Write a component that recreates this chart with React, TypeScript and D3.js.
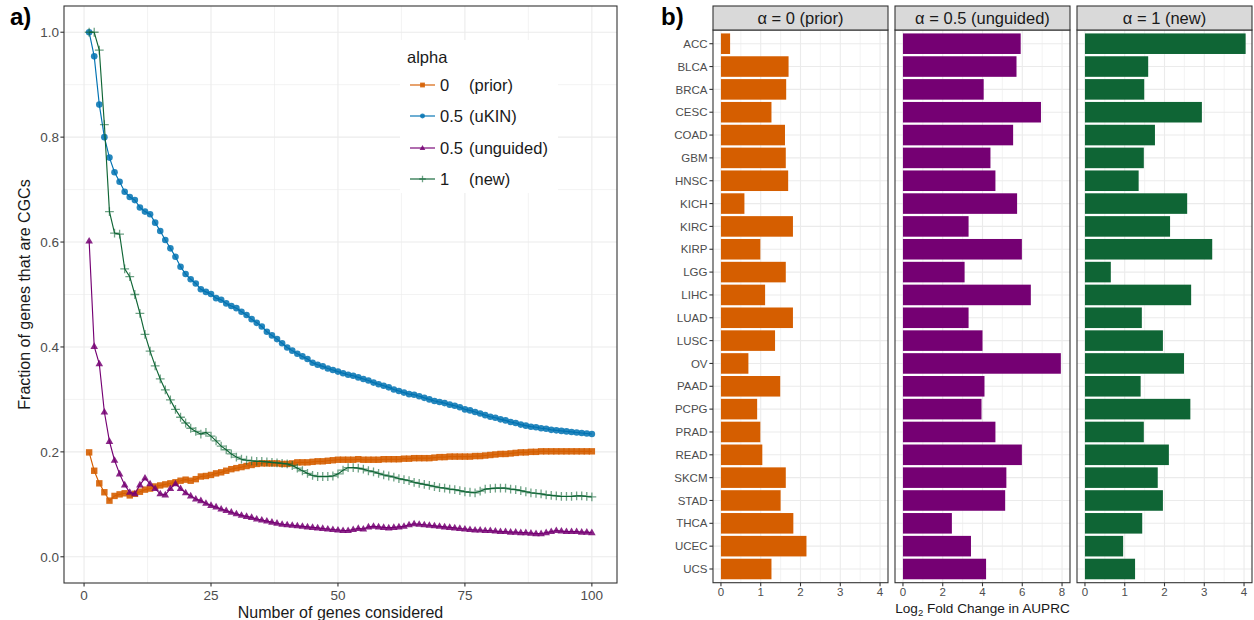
import React from 'react';
import * as d3 from 'd3';

// ---------- Panel a data ----------
const geneCounts = d3.range(1, 101);

const priorFraction = [
  0.199, 0.164, 0.140, 0.123, 0.107, 0.116, 0.119, 0.121, 0.117, 0.120,
  0.124, 0.128, 0.130, 0.134, 0.136, 0.138, 0.140, 0.142, 0.145, 0.147,
  0.145, 0.148, 0.153, 0.154, 0.156, 0.159, 0.161, 0.164, 0.167, 0.169,
  0.171, 0.173, 0.175, 0.177, 0.178, 0.178, 0.178, 0.178, 0.177, 0.177,
  0.178, 0.180, 0.180, 0.180, 0.181, 0.182, 0.182, 0.183, 0.184, 0.185,
  0.185, 0.185, 0.185, 0.186, 0.185, 0.185, 0.185, 0.185, 0.186, 0.186,
  0.186, 0.186, 0.187, 0.187, 0.188, 0.188, 0.188, 0.188, 0.189, 0.190,
  0.190, 0.191, 0.191, 0.191, 0.191, 0.191, 0.192, 0.192, 0.193, 0.194,
  0.195, 0.196, 0.196, 0.197, 0.198, 0.199, 0.199, 0.200, 0.200, 0.201,
  0.201, 0.201, 0.201, 0.201, 0.201, 0.201, 0.201, 0.201, 0.201, 0.201,
];

const ukinFraction = [
  1.000, 0.954, 0.862, 0.800, 0.761, 0.733, 0.715, 0.696, 0.686, 0.680,
  0.666, 0.658, 0.653, 0.637, 0.621, 0.604, 0.588, 0.572, 0.553, 0.539,
  0.529, 0.521, 0.510, 0.505, 0.501, 0.493, 0.490, 0.483, 0.478, 0.474,
  0.467, 0.461, 0.453, 0.446, 0.439, 0.429, 0.422, 0.415, 0.407, 0.399,
  0.393, 0.387, 0.382, 0.377, 0.370, 0.366, 0.363, 0.359, 0.356, 0.353,
  0.350, 0.347, 0.345, 0.342, 0.339, 0.336, 0.332, 0.329, 0.326, 0.323,
  0.319, 0.316, 0.313, 0.310, 0.309, 0.306, 0.303, 0.300, 0.297, 0.295,
  0.293, 0.290, 0.288, 0.285, 0.281, 0.279, 0.276, 0.273, 0.270, 0.267,
  0.265, 0.262, 0.260, 0.257, 0.255, 0.252, 0.250, 0.248, 0.247, 0.245,
  0.244, 0.242, 0.241, 0.240, 0.239, 0.238, 0.237, 0.236, 0.235, 0.234,
];

const unguidedFraction = [
  0.602, 0.401, 0.368, 0.276, 0.220, 0.184, 0.158, 0.137, 0.123, 0.120,
  0.137, 0.150, 0.139, 0.130, 0.120, 0.118, 0.130, 0.139, 0.130, 0.122,
  0.116, 0.110, 0.107, 0.102, 0.098, 0.095, 0.091, 0.088, 0.085, 0.082,
  0.079, 0.077, 0.075, 0.072, 0.070, 0.068, 0.066, 0.064, 0.062, 0.061,
  0.060, 0.059, 0.058, 0.057, 0.056, 0.055, 0.054, 0.053, 0.052, 0.051,
  0.050, 0.050, 0.052, 0.054, 0.053, 0.057, 0.058, 0.057, 0.056, 0.055,
  0.056, 0.057, 0.058, 0.061, 0.063, 0.062, 0.061, 0.060, 0.059, 0.058,
  0.057, 0.056, 0.055, 0.054, 0.053, 0.052, 0.051, 0.051, 0.050, 0.050,
  0.049, 0.048, 0.048, 0.047, 0.047, 0.046, 0.046, 0.045, 0.044, 0.044,
  0.046, 0.048, 0.050, 0.049, 0.048, 0.048, 0.048, 0.047, 0.047, 0.046,
];

const newFraction = [
  1.000, 1.000, 0.966, 0.824, 0.658, 0.617, 0.615, 0.549, 0.534, 0.500,
  0.464, 0.424, 0.392, 0.364, 0.339, 0.318, 0.299, 0.281, 0.266, 0.255,
  0.245, 0.239, 0.234, 0.237, 0.230, 0.221, 0.211, 0.204, 0.196, 0.190,
  0.186, 0.184, 0.183, 0.182, 0.182, 0.181, 0.180, 0.179, 0.178, 0.177,
  0.174, 0.169, 0.164, 0.159, 0.155, 0.153, 0.153, 0.153, 0.154, 0.158,
  0.165, 0.170, 0.170, 0.169, 0.167, 0.164, 0.162, 0.159, 0.156, 0.154,
  0.152, 0.149, 0.147, 0.145, 0.142, 0.140, 0.138, 0.136, 0.134, 0.132,
  0.131, 0.129, 0.128, 0.126, 0.124, 0.123, 0.122, 0.125, 0.129, 0.130,
  0.131, 0.131, 0.131, 0.129, 0.128, 0.126, 0.124, 0.122, 0.121, 0.120,
  0.118, 0.117, 0.116, 0.115, 0.115, 0.115, 0.116, 0.116, 0.115, 0.114,
];

const legendValues = ['0', '0.5', '0.5', '1'];
const legendDescs = ['(prior)', '(uKIN)', '(unguided)', '(new)'];
const seriesColors = ['#D55E00', '#0072B2', '#750073', '#0F6535'];
const seriesShapes = ['square', 'circle', 'triangle', 'plus'];

const xTicksA = [0, 25, 50, 75, 100];
const xMinorA = [12.5, 37.5, 62.5, 87.5];
const yTicksA = [0, 0.2, 0.4, 0.6, 0.8, 1.0];
const yMinorA = [0.1, 0.3, 0.5, 0.7, 0.9];

// ---------- Panel b data ----------
const cancerTypes = [
  'ACC', 'BLCA', 'BRCA', 'CESC', 'COAD', 'GBM', 'HNSC', 'KICH', 'KIRC', 'KIRP',
  'LGG', 'LIHC', 'LUAD', 'LUSC', 'OV', 'PAAD', 'PCPG', 'PRAD', 'READ', 'SKCM',
  'STAD', 'THCA', 'UCEC', 'UCS',
];
const foldPrior = [
  0.23, 1.70, 1.64, 1.27, 1.61, 1.63, 1.69, 0.59, 1.81, 0.99,
  1.63, 1.11, 1.81, 1.36, 0.69, 1.49, 0.91, 0.99, 1.04, 1.63,
  1.50, 1.82, 2.15, 1.27,
];
const foldUnguided = [
  5.92, 5.71, 4.06, 6.94, 5.54, 4.40, 4.65, 5.74, 3.30, 5.98,
  3.10, 6.43, 3.30, 4.00, 7.94, 4.10, 3.95, 4.65, 5.98, 5.20,
  5.14, 2.46, 3.42, 4.18,
];
const foldNew = [
  4.04, 1.59, 1.49, 2.94, 1.76, 1.48, 1.35, 2.57, 2.14, 3.20,
  0.65, 2.67, 1.43, 1.96, 2.49, 1.40, 2.65, 1.48, 2.11, 1.83,
  1.96, 1.44, 0.96, 1.26,
];
const facetTitles = ['\u03B1 = 0 (prior)', '\u03B1 = 0.5 (unguided)', '\u03B1 = 1 (new)'];
const facetColors = ['#D55E00', '#750073', '#0F6535'];
const facetTicks = [[0, 1, 2, 3, 4], [0, 2, 4, 6, 8], [0, 1, 2, 3, 4]];
const facetMinor = [[0.5, 1.5, 2.5, 3.5], [1, 3, 5, 7], [0.5, 1.5, 2.5, 3.5]];
const facetDomains = [[-0.2, 4.2], [-0.4, 8.4], [-0.2, 4.2]];

const FONT = '"Liberation Sans", Arial, Helvetica, sans-serif';
const GRID = '#EBEBEB';
const AXIS = '#333333';
const TEXT = '#1A1A1A';
const TICKTXT = '#4D4D4D';

function Marker({ shape, x, y, color, k = 1 }: { shape: string; x: number; y: number; color: string; k?: number }) {
  if (shape === 'square') {
    const s = 6.4 * k;
    return <rect x={x - s / 2} y={y - s / 2} width={s} height={s} fill={color} opacity={0.9} />;
  }
  if (shape === 'circle') {
    return <circle cx={x} cy={y} r={3.3 * k} fill={color} opacity={0.85} />;
  }
  if (shape === 'triangle') {
    const w = 7.6 * k;
    const h = 6.6 * k;
    const p = `M${x},${y - h * 0.62}L${x + w / 2},${y + h * 0.38}L${x - w / 2},${y + h * 0.38}Z`;
    return <path d={p} fill={color} opacity={0.85} />;
  }
  const a = 4.4 * k;
  return (
    <path d={`M${x - a},${y}H${x + a}M${x},${y - a}V${y + a}`} stroke={color} strokeWidth={1.3} opacity={0.6} fill="none" />
  );
}

export default function App() {
  const W = 1254;
  const H = 620;

  // Panel a geometry
  const A = { left: 64, right: 617, top: 6, bottom: 583 };
  const xA = d3.scaleLinear().domain([-3.95, 104.95]).range([A.left, A.right]);
  const yA = d3.scaleLinear().domain([-0.05, 1.05]).range([A.bottom, A.top]);
  const allSeries = [priorFraction, ukinFraction, unguidedFraction, newFraction];
  const line = d3
    .line<number>()
    .x((_, i) => xA(geneCounts[i]))
    .y((d) => yA(d));

  // Panel b geometry
  const B = { top: 30, bottom: 582.7, stripTop: 6 };
  const panelX = [
    [713, 888],
    [895, 1070],
    [1077, 1252],
  ];
  const yB = d3.scaleLinear().domain([-0.6, cancerTypes.length - 1 + 0.6]).range([B.top, B.bottom]);
  const bandH = yB(1) - yB(0);
  const folds = [foldPrior, foldUnguided, foldNew];

  const legend = { x: 400, y: 40, w: 158, h: 153 };
  const legendRows = [85, 116, 148, 179];

  return (
    <div style={{ position: 'fixed', left: 0, top: 0, width: W, height: H, background: '#fff' }}>
      <svg width={W} height={H} viewBox={`0 0 ${W} ${H}`} style={{ display: 'block' }} fontFamily={FONT}>
        <rect x={0} y={0} width={W} height={H} fill="#fff" />

        {/* ---------- Panel a ---------- */}
        <text x={10} y={25} fontSize={24} fontWeight="bold" fill="#000">a)</text>

        <rect x={A.left} y={A.top} width={A.right - A.left} height={A.bottom - A.top} fill="#fff" />
        {xMinorA.map((v) => (
          <line key={'xm' + v} x1={xA(v)} x2={xA(v)} y1={A.top} y2={A.bottom} stroke={GRID} strokeWidth={0.6} />
        ))}
        {yMinorA.map((v) => (
          <line key={'ym' + v} y1={yA(v)} y2={yA(v)} x1={A.left} x2={A.right} stroke={GRID} strokeWidth={0.6} />
        ))}
        {xTicksA.map((v) => (
          <line key={'xg' + v} x1={xA(v)} x2={xA(v)} y1={A.top} y2={A.bottom} stroke={GRID} strokeWidth={1.1} />
        ))}
        {yTicksA.map((v) => (
          <line key={'yg' + v} y1={yA(v)} y2={yA(v)} x1={A.left} x2={A.right} stroke={GRID} strokeWidth={1.1} />
        ))}

        {allSeries.map((s, si) => (
          <g key={'s' + si}>
            <path d={line(s) || ''} fill="none" stroke={seriesColors[si]} strokeWidth={1.15} />
            {s.map((v, i) => (
              <Marker key={i} shape={seriesShapes[si]} x={xA(geneCounts[i])} y={yA(v)} color={seriesColors[si]} />
            ))}
          </g>
        ))}

        {/* legend */}
        <rect x={legend.x} y={legend.y} width={legend.w} height={legend.h} fill="#fff" />
        <text x={407} y={63} fontSize={16.5} fill={TEXT}>alpha</text>
        {legendValues.map((lv, i) => (
          <g key={'lg' + i}>
            <line x1={410} x2={435} y1={legendRows[i]} y2={legendRows[i]} stroke={seriesColors[i]} strokeWidth={1.15} />
            <Marker shape={seriesShapes[i]} x={422.5} y={legendRows[i]} color={seriesColors[i]} k={0.75} />
            <text x={440} y={legendRows[i]} dy="0.36em" fontSize={16.5} fill={TEXT}>{lv}</text>
            <text x={469} y={legendRows[i]} dy="0.36em" fontSize={16.5} fill={TEXT}>{legendDescs[i]}</text>
          </g>
        ))}

        <rect x={A.left} y={A.top} width={A.right - A.left} height={A.bottom - A.top} fill="none" stroke={AXIS} strokeWidth={1.1} />

        {/* axes a */}
        {yTicksA.map((v) => (
          <g key={'yt' + v}>
            <line x1={A.left - 3.6} x2={A.left} y1={yA(v)} y2={yA(v)} stroke={AXIS} strokeWidth={1.1} />
            <text x={A.left - 5} y={yA(v)} dy="0.36em" textAnchor="end" fontSize={13.5} fill={TICKTXT}>
              {v.toFixed(1)}
            </text>
          </g>
        ))}
        {xTicksA.map((v) => (
          <g key={'xt' + v}>
            <line x1={xA(v)} x2={xA(v)} y1={A.bottom} y2={A.bottom + 3.6} stroke={AXIS} strokeWidth={1.1} />
            <text x={xA(v)} y={600} textAnchor="middle" fontSize={13.5} fill={TICKTXT}>{v}</text>
          </g>
        ))}
        <text x={(A.left + A.right) / 2} y={618} textAnchor="middle" fontSize={16} fill={TEXT}>
          Number of genes considered
        </text>
        <text
          transform={`translate(30, ${(A.top + A.bottom) / 2}) rotate(-90)`}
          textAnchor="middle"
          fontSize={16}
          fill={TEXT}
        >
          Fraction of genes that are CGCs
        </text>

        {/* ---------- Panel b ---------- */}
        <text x={661} y={25} fontSize={24} fontWeight="bold" fill="#000">b)</text>

        {panelX.map((px, fi) => {
          const xs = d3.scaleLinear().domain(facetDomains[fi]).range(px);
          const vals = folds[fi];
          return (
            <g key={'f' + fi}>
              <rect x={px[0]} y={B.top} width={px[1] - px[0]} height={B.bottom - B.top} fill="#fff" />
              {facetMinor[fi].map((v) => (
                <line key={'m' + v} x1={xs(v)} x2={xs(v)} y1={B.top} y2={B.bottom} stroke={GRID} strokeWidth={0.6} />
              ))}
              {facetTicks[fi].map((v) => (
                <line key={'g' + v} x1={xs(v)} x2={xs(v)} y1={B.top} y2={B.bottom} stroke={GRID} strokeWidth={1.1} />
              ))}
              {cancerTypes.map((c, i) => (
                <line key={'h' + c} x1={px[0]} x2={px[1]} y1={yB(i)} y2={yB(i)} stroke={GRID} strokeWidth={1.1} />
              ))}
              {vals.map((v, i) => (
                <rect
                  key={'b' + i}
                  x={xs(0)}
                  y={yB(i) - (bandH * 0.9) / 2}
                  width={xs(v) - xs(0)}
                  height={bandH * 0.9}
                  fill={facetColors[fi]}
                />
              ))}
              <rect x={px[0]} y={B.top} width={px[1] - px[0]} height={B.bottom - B.top} fill="none" stroke={AXIS} strokeWidth={1.1} />
              {/* strip */}
              <rect x={px[0]} y={B.stripTop} width={px[1] - px[0]} height={B.top - B.stripTop} fill="#D9D9D9" stroke={AXIS} strokeWidth={1.1} />
              <text x={(px[0] + px[1]) / 2} y={(B.stripTop + B.top) / 2} dy="0.36em" textAnchor="middle" fontSize={16.5} fill={TEXT}>
                {facetTitles[fi]}
              </text>
              {/* x axis */}
              {facetTicks[fi].map((v) => (
                <g key={'t' + v}>
                  <line x1={xs(v)} x2={xs(v)} y1={B.bottom} y2={B.bottom + 3.6} stroke={AXIS} strokeWidth={1.1} />
                  <text x={xs(v)} y={596} textAnchor="middle" fontSize={11.5} fill={TICKTXT}>{v}</text>
                </g>
              ))}
            </g>
          );
        })}

        {cancerTypes.map((c, i) => (
          <g key={'yl' + c}>
            <line x1={panelX[0][0] - 3.6} x2={panelX[0][0]} y1={yB(i)} y2={yB(i)} stroke={AXIS} strokeWidth={1.1} />
            <text x={panelX[0][0] - 5.5} y={yB(i)} dy="0.36em" textAnchor="end" fontSize={11.5} fill={TICKTXT}>
              {c}
            </text>
          </g>
        ))}

        <text x={(panelX[0][0] + panelX[2][1]) / 2} y={613} textAnchor="middle" fontSize={13.6} fill={TEXT}>
          <tspan>Log</tspan>
          <tspan fontSize={9.5} dy={3}>2</tspan>
          <tspan dy={-3}> Fold Change in AUPRC</tspan>
        </text>
      </svg>
    </div>
  );
}
